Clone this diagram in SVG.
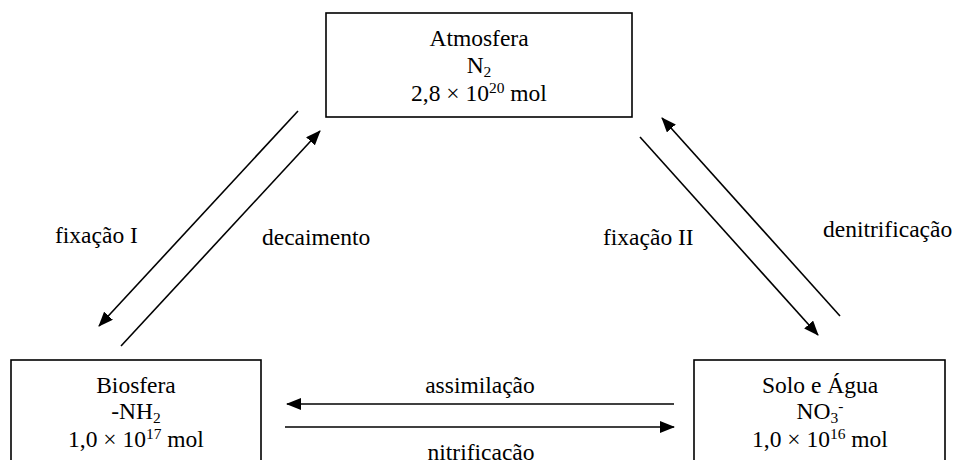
<svg xmlns="http://www.w3.org/2000/svg" width="957" height="460" viewBox="0 0 957 460">
<defs>
<style>
text{font-family:"Liberation Serif","Times New Roman",serif;font-size:23.5px;fill:#000}
.ctr{text-anchor:middle}
.sm{font-size:15.5px}
.box{fill:#fff;stroke:#000;stroke-width:1.6}
.arr{stroke:#000;stroke-width:1.6;fill:none;marker-end:url(#ah)}
</style>
<marker id="ah" markerWidth="15" markerHeight="12" refX="14" refY="6" orient="auto" markerUnits="userSpaceOnUse">
<path d="M0,0 L15,6 L0,12 z" fill="#000"/>
</marker>
</defs>
<rect width="957" height="460" fill="#fff"/>
<g id="atmosfera">
<rect class="box" x="326" y="13" width="306" height="104"/>
<text class="ctr" x="479" y="46">Atmosfera</text>
<text class="ctr" x="479" y="73">N<tspan class="sm" dy="4">2</tspan></text>
<text class="ctr" x="479" y="101">2,8 × 10<tspan class="sm" dy="-8">20</tspan><tspan dy="8"> mol</tspan></text>
</g>
<g id="biosfera">
<rect class="box" x="11" y="360" width="250" height="120"/>
<text class="ctr" x="136" y="393">Biosfera</text>
<text class="ctr" x="136" y="419">-NH<tspan class="sm" dy="4">2</tspan></text>
<text class="ctr" x="136" y="447">1,0 × 10<tspan class="sm" dy="-8">17</tspan><tspan dy="8"> mol</tspan></text>
</g>
<g id="solo">
<rect class="box" x="694" y="360" width="251" height="120"/>
<text class="ctr" x="820" y="393">Solo e Água</text>
<text class="ctr" x="820" y="419">NO<tspan class="sm" dy="4">3</tspan><tspan class="sm" dy="-12">-</tspan></text>
<text class="ctr" x="820" y="447">1,0 × 10<tspan class="sm" dy="-8">16</tspan><tspan dy="8"> mol</tspan></text>
</g>
<g id="connectors">
<line class="arr" x1="298" y1="111" x2="99" y2="326"/>
<line class="arr" x1="121" y1="346" x2="320" y2="131"/>
<line class="arr" x1="640" y1="137" x2="818" y2="335"/>
<line class="arr" x1="840" y1="316" x2="662" y2="118"/>
<line class="arr" x1="674" y1="404" x2="287" y2="404"/>
<line class="arr" x1="285" y1="427" x2="674" y2="427"/>
</g>
<g id="labels">
<text x="55" y="243">fixação I</text>
<text x="262" y="245">decaimento</text>
<text x="603" y="245">fixação II</text>
<text x="823" y="237">denitrificação</text>
<text class="ctr" x="480" y="393">assimilação</text>
<text class="ctr" x="481" y="460">nitrificação</text>
</g>
</svg>
